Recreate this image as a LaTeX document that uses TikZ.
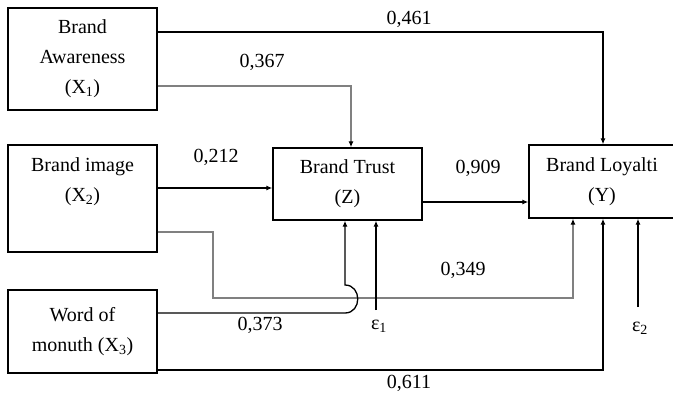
\documentclass[tikz,border=0pt]{standalone}
\usepackage{fontspec}
\setmainfont{Liberation Serif}
\usetikzlibrary{arrows.meta}
\begin{document}
\begin{tikzpicture}[x=1pt,y=-1pt,
  box/.style={draw,line width=1.3pt,inner sep=0pt,align=center,font=\fontsize{20}{30}\selectfont},
  txt/.style={inner sep=0pt,align=center,font=\fontsize{20}{30}\selectfont},
  lbl/.style={inner sep=0pt,font=\fontsize{20}{24}\selectfont},
  arr/.style={line width=1.3pt,-{Latex[length=6pt,width=5pt,black]}},
  grayline/.style={draw=black!50,line width=1.5pt}]
\useasboundingbox (0,0) rectangle (673,394);
\clip (0,0) rectangle (673,394);
% boxes
\node[box,minimum width=149pt,minimum height=102pt] (X1) at (82.5,59) {Brand\\Awareness\\(X\textsubscript{1})};
\node[box,minimum width=149pt,minimum height=107pt] (X2) at (82.5,198.5) {};
\node[txt] (X2t) at (82.5,182) {Brand image\\(X\textsubscript{2})};
\node[box,minimum width=149pt,minimum height=83pt] (X3) at (82.5,331.5) {Word of\\monuth (X\textsubscript{3})};
\node[box,minimum width=149pt,minimum height=72pt] (Z) at (347.5,184) {Brand Trust\\(Z)};
\node[box,minimum width=146pt,minimum height=73pt] (Y) at (602,181.5) {Brand Loyalti\\(Y)};
% coordinates
\coordinate (a1) at (603,32);
\coordinate (a2) at (351,86);
\coordinate (a3) at (0,188);
\coordinate (a4) at (0,202);
\coordinate (b1) at (213,232);
\coordinate (b2) at (573,298);
\coordinate (c1) at (345,313);
\coordinate (d1) at (603,370);
\coordinate (e1t) at (376,310);
\coordinate (e2t) at (638,307);
% connectors
\draw[arr] (X1.east |- a1) -- (a1) -- (a1 |- Y.north);
\draw[arr,grayline] (X1.east |- a2) -- (a2) -- (a2 |- Z.north);
\draw[arr] (X2.east |- a3) -- (Z.west |- a3);
\draw[arr] (Z.east |- a4) -- (Y.west |- a4);
\draw[arr,grayline] (X2.east |- b1) -- (b1) -- (b1 |- b2) -- (b2) -- (b2 |- Y.south);
\draw[arr] (X3.east |- c1) -- (c1) .. controls (362,313) and (362,285) .. (345,285) -- (c1 |- Z.south);
\draw[arr] (e1t) -- (e1t |- Z.south);
\draw[arr] (X3.east |- d1) -- (d1) -- (d1 |- Y.south);
\draw[arr] (e2t) -- (e2t |- Y.south);
% labels
\node[lbl] (l1) at (409,19) {0,461};
\node[lbl] (l2) at (262,62) {0,367};
\node[lbl] (l3) at (216,157) {0,212};
\node[lbl] (l4) at (478,168) {0,909};
\node[lbl] (l5) at (463,270) {0,349};
\node[lbl] (l6) at (260,325) {0,373};
\node[lbl] (l7) at (409,383) {0,611};
\node[lbl] (e1) at (379,326) {ε\textsubscript{1}};
\node[lbl] (e2) at (640,328) {ε\textsubscript{2}};
\end{tikzpicture}
\end{document}
